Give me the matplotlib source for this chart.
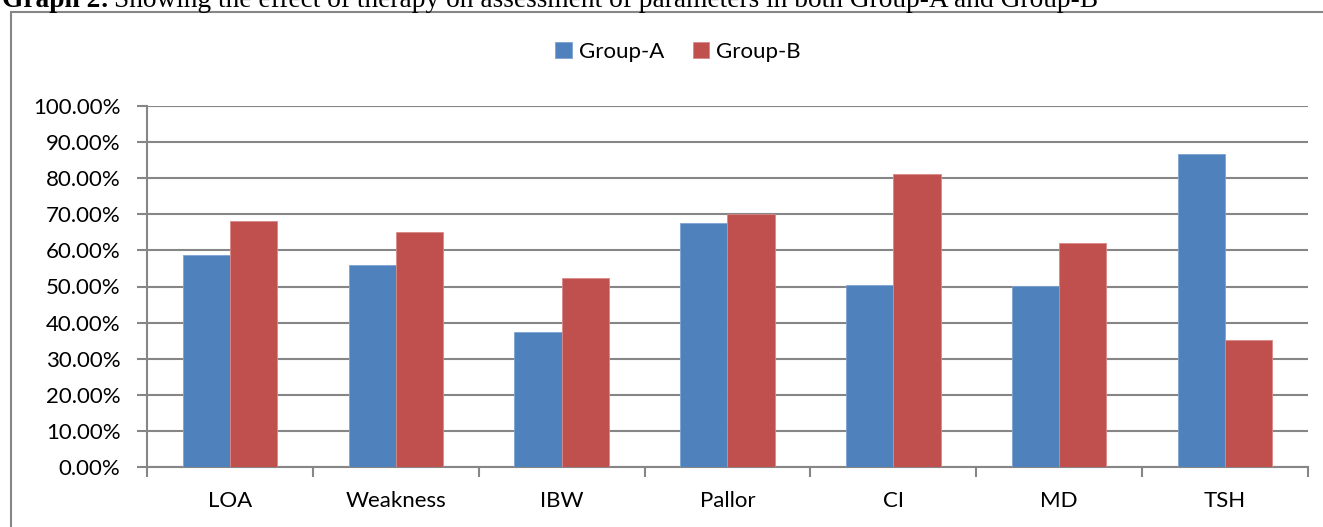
import matplotlib.pyplot as plt
import matplotlib.patches as mpatches
import numpy as np
from matplotlib.ticker import FuncFormatter, FixedLocator

categories = ["LOA", "Weakness", "IBW", "Pallor", "CI", "MD", "TSH"]
group_a = [0.587, 0.560, 0.374, 0.675, 0.505, 0.501, 0.867]
group_b = [0.681, 0.652, 0.523, 0.701, 0.813, 0.621, 0.351]

blue = "#4F81BD"
red = "#C0504D"
grey = "#868686"

plt.rcParams['font.family'] = ['Lato', 'DejaVu Sans']

fig = plt.figure(figsize=(13.23, 5.27), dpi=100)

# outer chart frame (right and bottom run off the picture)
frame = mpatches.Rectangle((11 / 1323, -0.05), 1.2, 1 - 12 / 527 + 0.05,
                           transform=fig.transFigure, fill=False,
                           edgecolor=grey, linewidth=1.5)
fig.patches.append(frame)

# caption above the frame, cropped at the top like the source
t1 = fig.text(2 / 1323, 1 - 7 / 527, "Graph 2:", family='Liberation Serif', weight='bold',
              fontsize=19.7, va='baseline', ha='left')
fig.canvas.draw()
bb = t1.get_window_extent()
fig.text(bb.x1 / fig.bbox.width + 5 / 1323, 1 - 7 / 527,
         "Showing the effect of therapy on assessment of parameters in both Group-A and Group-B",
         family='Liberation Serif', fontsize=19.7, va='baseline', ha='left')

ax = fig.add_axes([147 / 1323, 1 - 467 / 527, (1308 - 147) / 1323, (467 - 106) / 527])

x = np.arange(len(categories))
w = 0.285
ax.bar(x - w / 2, group_a, w, color=blue, edgecolor="#7FA3D3", linewidth=0.6, label="Group-A", zorder=3)
ax.bar(x + w / 2, group_b, w, color=red, edgecolor="#D98A88", linewidth=0.6, label="Group-B", zorder=3)

ax.set_xlim(-0.5, len(categories) - 0.5)
ax.set_ylim(0, 1.0)
ax.set_yticks(np.arange(0, 1.01, 0.1))
ax.yaxis.set_major_formatter(FuncFormatter(lambda v, p: f"{v * 100:.2f}%"))
ax.yaxis.grid(True, color=grey, linewidth=1.5, zorder=0)

ax.set_xticks(x)
ax.set_xticklabels(categories)
ax.xaxis.set_minor_locator(FixedLocator(np.arange(-0.5, len(categories), 1.0)))
ax.tick_params(axis='x', which='major', length=0, pad=17, labelsize=16)
ax.tick_params(axis='x', which='minor', length=7, width=1.5, color=grey)
ax.tick_params(axis='y', length=7, width=1.5, color=grey, labelsize=16, pad=12)

for s in ['top', 'right']:
    ax.spines[s].set_visible(False)
for s in ['left', 'bottom']:
    ax.spines[s].set_color(grey)
    ax.spines[s].set_linewidth(1.5)

leg = ax.legend(loc='center', bbox_to_anchor=(678 / 1323, 1 - 52 / 527), bbox_transform=fig.transFigure,
                ncol=2, frameon=False, fontsize=16, handlelength=0.75, handleheight=0.75,
                handletextpad=0.3, columnspacing=1.3)

fig.savefig("out.png", dpi=100)
